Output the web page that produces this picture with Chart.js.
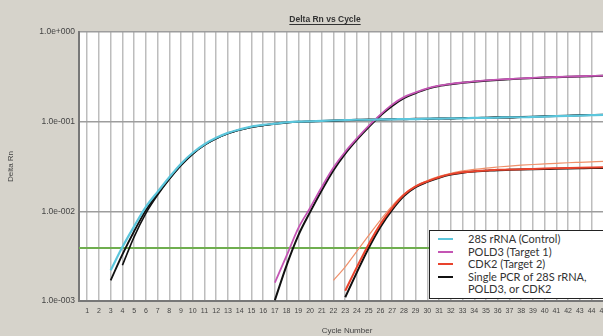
<!DOCTYPE html>
<html>
<head>
<meta charset="utf-8">
<script src="https://cdn.jsdelivr.net/npm/chart.js@4.4.1/dist/chart.umd.min.js"></script>
<style>
  body { margin: 0; background: #d6d3cb; overflow: hidden; width: 603px; height: 336px; }
  #wrap { position: absolute; left: 0; top: 0; width: 615px; height: 336px; }
  #legend {
    position: absolute; left: 429px; top: 230px; width: 190px; height: 65px;
    background: #fff; border: 1.5px solid #222; padding-top: 2px;
    font-family: Lato, "Open Sans", sans-serif; font-size: 11px; color: #333; line-height: 12.5px;
  }
  #legend .row { position: relative; padding-left: 38px; }
  #legend .sw { position: absolute; left: 8px; top: 5px; width: 15px; height: 2px; }
</style>
</head>
<body>
<div id="wrap"><canvas id="pcrChart" width="615" height="336"></canvas></div>
<div id="legend"></div>
<script>
const cycles = [1,2,3,4,5,6,7,8,9,10,11,12,13,14,15,16,17,18,19,20,21,22,23,24,25,26,27,28,29,30,31,32,33,34,35,36,37,38,39,40,41,42,43,44,45];
const yTicks = [0.001, 0.01, 0.1, 1];
const threshold = 0.0039;

// 28S rRNA (Control)
const control28S = [null,null,0.0022,0.0040,0.0068,0.0112,0.0165,0.024,0.034,0.045,0.056,0.066,0.075,0.082,0.088,0.092,0.095,0.098,0.100,0.101,0.102,0.103,0.104,0.105,0.105,0.106,0.106,0.107,0.107,0.108,0.108,0.109,0.109,0.110,0.110,0.111,0.112,0.112,0.113,0.114,0.115,0.116,0.117,0.118,0.119];
// POLD3 (Target 1)
const pold3 = [null,null,null,null,null,null,null,null,null,null,null,null,null,null,null,null,0.0016,0.0032,0.0065,0.0109,0.0187,0.0308,0.0462,0.0653,0.0898,0.120,0.155,0.188,0.212,0.235,0.252,0.264,0.273,0.281,0.288,0.294,0.299,0.304,0.308,0.312,0.315,0.318,0.321,0.324,0.327];
// CDK2 (Target 2), two replicates
const cdk2 = [null,null,null,null,null,null,null,null,null,null,null,null,null,null,null,null,null,null,null,null,null,null,0.0013,0.0024,0.0043,0.0072,0.0109,0.0153,0.019,0.0216,0.024,0.026,0.0273,0.028,0.0285,0.029,0.0292,0.0295,0.0297,0.030,0.0302,0.0304,0.0306,0.0308,0.031];
const cdk2b = [null,null,null,null,null,null,null,null,null,null,null,null,null,null,null,null,null,null,null,null,null,0.0017,0.0024,0.0036,0.0054,0.0080,0.0115,0.0155,0.0192,0.022,0.0245,0.0266,0.0282,0.0294,0.0304,0.0312,0.032,0.0327,0.0333,0.0338,0.0343,0.0348,0.0352,0.0356,0.036];
// Single PCR runs
const single28Sa = [null,null,0.0017,0.0033,0.0060,0.0103,0.0158,0.0232,0.033,0.044,0.055,0.065,0.074,0.081,0.087,0.091,0.095,0.098,0.100,0.101,0.102,0.103,0.104,0.105,0.106,0.106,0.107,0.107,0.108,0.108,0.109,0.109,0.110,0.110,0.111,0.112,0.112,0.113,0.114,0.115,0.116,0.117,0.118,0.119,0.120];
const single28Sb = [null,null,null,0.0025,0.0052,0.0095,0.0152,0.0228,0.0325,0.0435,0.055,0.065,0.074,0.081,0.087,0.091,0.094,0.097,0.099,0.100,0.101,0.102,0.103,0.104,0.105,0.105,0.106,0.106,0.107,0.107,0.108,0.108,0.109,0.109,0.110,0.111,0.111,0.112,0.113,0.114,0.115,0.116,0.117,0.118,0.119];
const singlePOLD3 = [null,null,null,null,null,null,null,null,null,null,null,null,null,null,null,null,0.00102,0.0025,0.0054,0.0098,0.0172,0.0288,0.044,0.063,0.087,0.117,0.150,0.183,0.208,0.232,0.250,0.262,0.271,0.279,0.286,0.292,0.297,0.302,0.306,0.310,0.313,0.316,0.319,0.322,0.325];
const singleCDK2 = [null,null,null,null,null,null,null,null,null,null,null,null,null,null,null,null,null,null,null,null,null,null,0.0011,0.0021,0.0039,0.0067,0.0104,0.0148,0.0186,0.0213,0.0237,0.0257,0.027,0.0278,0.0283,0.0288,0.029,0.0292,0.0294,0.0296,0.0298,0.030,0.0302,0.0304,0.0305];

const legendNames = ['28S rRNA (Control)', 'POLD3 (Target 1)', 'CDK2 (Target 2)', 'Single PCR of 28S rRNA, POLD3, or CDK2'];
const legendColors = ['#5cc6dc', '#c455b4', '#e8432d', '#111111'];

function series(data, color, width, order) {
  return {
    data: data.map((v, i) => ({x: cycles[i], y: v})),
    borderColor: color,
    borderWidth: width,
    pointRadius: 0,
    fill: false,
    cubicInterpolationMode: 'monotone',
    order: order
  };
}

const titlePlugin = {
  id: 'topTitle',
  afterDraw(chart) {
    const ctx = chart.ctx;
    const text = 'Delta Rn vs Cycle';
    ctx.save();
    ctx.font = 'bold 8.5px "Liberation Sans", Arial, sans-serif';
    ctx.fillStyle = '#333';
    ctx.textAlign = 'center';
    ctx.textBaseline = 'alphabetic';
    const cx = 325, cy = 22;
    ctx.fillText(text, cx, cy);
    const w = ctx.measureText(text).width;
    ctx.strokeStyle = '#333';
    ctx.lineWidth = 1;
    ctx.beginPath();
    ctx.moveTo(cx - w / 2, cy + 2.5);
    ctx.lineTo(cx + w / 2, cy + 2.5);
    ctx.stroke();
    ctx.restore();
  }
};

const plotBg = {
  id: 'plotBg',
  beforeDraw(chart) {
    const a = chart.chartArea;
    chart.ctx.save();
    chart.ctx.fillStyle = '#ffffff';
    chart.ctx.fillRect(a.left, a.top, a.right - a.left, a.bottom - a.top);
    chart.ctx.restore();
  }
};

const ctx = document.getElementById('pcrChart').getContext('2d');
const chart = new Chart(ctx, {
  type: 'line',
  data: {
    datasets: [
      {
        data: [{x: 0.3, y: threshold}, {x: 46, y: threshold}],
        borderColor: '#6fae4f', borderWidth: 2, pointRadius: 0, order: 5
      },
      series(single28Sa, legendColors[3], 1.8, 3),
      series(single28Sb, legendColors[3], 1.6, 3),
      series(singlePOLD3, legendColors[3], 2, 3),
      series(singleCDK2, legendColors[3], 2, 3),
      series(control28S, legendColors[0], 2.2, 1),
      series(pold3, legendColors[1], 1.8, 1),
      series(cdk2, legendColors[2], 2, 1),
      series(cdk2b, '#f0906a', 1.2, 1)
    ]
  },
  options: {
    responsive: false,
    animation: false,
    events: [],
    layout: { padding: { top: 32, left: 0, right: 0, bottom: 0 } },
    plugins: {
      legend: { display: false },
      title: { display: false },
      tooltip: { enabled: false }
    },
    scales: {
      x: {
        type: 'linear',
        min: 0.3,
        max: 46,
        afterBuildTicks: s => { s.ticks = cycles.map(v => ({value: v})); },
        afterFit: s => { s.height = 35; },
        grid: { color: '#bdbdbd', lineWidth: 1.5, drawTicks: false },
        border: { display: true, color: '#777', width: 2 },
        ticks: {
          autoSkip: false, maxRotation: 0, padding: 6,
          color: '#444', font: { size: 7, family: '"Liberation Sans", Arial, sans-serif' },
          callback: v => String(v)
        },
        title: {
          display: true, text: 'Cycle Number', color: '#444', padding: 0,
          font: { size: 8, family: '"Liberation Sans", Arial, sans-serif' }
        }
      },
      y: {
        type: 'logarithmic',
        min: 0.001,
        max: 1,
        afterBuildTicks: s => { s.ticks = yTicks.map(v => ({value: v})); },
        afterFit: s => { s.width = 79; },
        grid: { color: '#9d9d9d', lineWidth: 1.5, drawTicks: false },
        border: { display: true, color: '#777', width: 2 },
        ticks: {
          padding: 4, color: '#444',
          font: { size: 8.5, family: '"Liberation Sans", Arial, sans-serif' },
          callback: v => {
            const e = Math.round(Math.log10(v));
            const s = String(Math.abs(e)).padStart(3, '0');
            return '1.0e' + (e < 0 ? '-' : '+') + s;
          }
        },
        title: {
          display: true, text: 'Delta Rn', color: '#444', padding: { top: 6, bottom: 0 },
          font: { size: 8, family: '"Liberation Sans", Arial, sans-serif' }
        }
      }
    }
  },
  plugins: [plotBg, titlePlugin]
});

const legendEl = document.getElementById('legend');
legendNames.forEach((name, i) => {
  const row = document.createElement('div');
  row.className = 'row';
  const sw = document.createElement('span');
  sw.className = 'sw';
  sw.style.background = legendColors[i];
  row.appendChild(sw);
  if (i === 3) {
    row.appendChild(document.createTextNode('Single PCR of 28S rRNA,'));
    row.appendChild(document.createElement('br'));
    row.appendChild(document.createTextNode('POLD3, or CDK2'));
  } else {
    row.appendChild(document.createTextNode(name));
  }
  legendEl.appendChild(row);
});
</script>
</body>
</html>
